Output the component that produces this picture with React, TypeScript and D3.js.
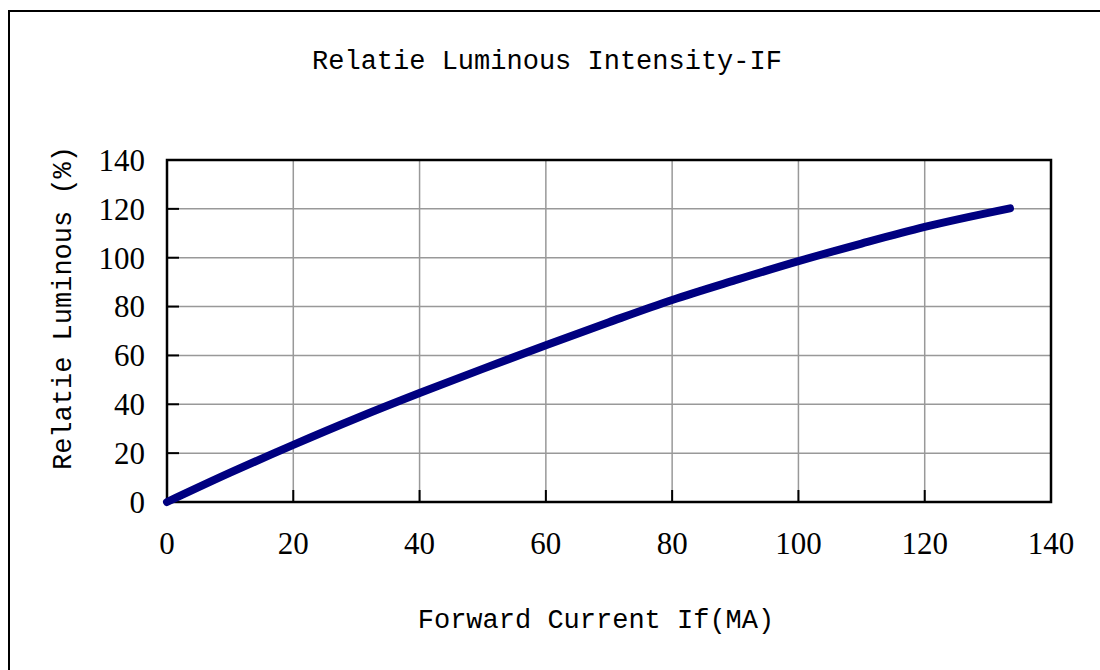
import React, { useEffect, useRef } from 'react';
import * as d3 from 'd3';

// forward current (mA) and relative luminous intensity (%)
const currentMA = [0, 10, 20, 30, 40, 50, 60, 70, 80, 90, 100, 110, 120, 133.5];
const relLuminous = [0, 12, 23.4, 34.3, 44.6, 54.5, 64.2, 73.6, 82.7, 90.8, 98.6, 105.8, 112.6, 120.2];
const xTicks = [0, 20, 40, 60, 80, 100, 120, 140];
const yTicks = [0, 20, 40, 60, 80, 100, 120, 140];

const W = 1100;
const H = 670;
const margin = { top: 160, right: 49, bottom: 168, left: 167 };

function App() {
  const svgRef = useRef<SVGSVGElement>(null);

  useEffect(() => {
    const svg = d3.select(svgRef.current);
    svg.selectAll('*').remove();

    const x = d3.scaleLinear().domain([0, 140]).range([margin.left, W - margin.right]);
    const y = d3.scaleLinear().domain([0, 140]).range([H - margin.bottom, margin.top]);

    const mono = '"Liberation Mono", "DejaVu Sans Mono", monospace';
    const serif = '"Liberation Serif", "DejaVu Serif", serif';

    // outer frame (only top/left edges fall inside the picture)
    svg.append('rect')
      .attr('x', 9).attr('y', 11)
      .attr('width', 1200).attr('height', 800)
      .attr('fill', 'white')
      .attr('stroke', '#000').attr('stroke-width', 2);

    // grid
    const grid = svg.append('g');
    grid.selectAll('line.v')
      .data(xTicks.slice(1, -1))
      .join('line')
      .attr('x1', d => x(d)).attr('x2', d => x(d))
      .attr('y1', y(0)).attr('y2', y(140))
      .attr('stroke', '#999').attr('stroke-width', 1.5);
    grid.selectAll('line.h')
      .data(yTicks.slice(1, -1))
      .join('line')
      .attr('x1', x(0)).attr('x2', x(140))
      .attr('y1', d => y(d)).attr('y2', d => y(d))
      .attr('stroke', '#999').attr('stroke-width', 1.5);

    // inward ticks
    const ticks = svg.append('g').attr('stroke', '#000').attr('stroke-width', 2);
    ticks.selectAll('line.xt')
      .data(xTicks.slice(1, -1))
      .join('line')
      .attr('x1', d => x(d)).attr('x2', d => x(d))
      .attr('y1', y(0)).attr('y2', y(0) - 12);
    ticks.selectAll('line.yt')
      .data(yTicks.slice(1, -1))
      .join('line')
      .attr('x1', x(0)).attr('x2', x(0) + 12)
      .attr('y1', d => y(d)).attr('y2', d => y(d));

    // plot frame
    svg.append('rect')
      .attr('x', x(0)).attr('y', y(140))
      .attr('width', x(140) - x(0)).attr('height', y(0) - y(140))
      .attr('fill', 'none')
      .attr('stroke', '#000').attr('stroke-width', 2.5);

    // curve
    const line = d3.line<number>()
      .x((d, i) => x(currentMA[i]))
      .y(d => y(d))
      .curve(d3.curveMonotoneX);
    svg.append('path')
      .datum(relLuminous)
      .attr('fill', 'none')
      .attr('stroke', '#000080')
      .attr('stroke-width', 8)
      .attr('stroke-linecap', 'round')
      .attr('stroke-linejoin', 'round')
      .attr('d', line);

    // tick labels
    svg.append('g').selectAll('text')
      .data(xTicks)
      .join('text')
      .attr('x', d => x(d))
      .attr('y', 554)
      .attr('text-anchor', 'middle')
      .attr('font-family', serif)
      .attr('font-size', 31)
      .text(d => d);
    svg.append('g').selectAll('text')
      .data(yTicks)
      .join('text')
      .attr('x', 145)
      .attr('y', d => y(d))
      .attr('dy', '0.35em')
      .attr('text-anchor', 'end')
      .attr('font-family', serif)
      .attr('font-size', 31)
      .text(d => d);

    // titles
    svg.append('text')
      .attr('x', 547).attr('y', 69)
      .attr('text-anchor', 'middle')
      .attr('font-family', mono)
      .attr('font-size', 27)
      .text('Relatie Luminous Intensity-IF');
    svg.append('text')
      .attr('x', 596).attr('y', 628)
      .attr('text-anchor', 'middle')
      .attr('font-family', mono)
      .attr('font-size', 27)
      .text('Forward Current If(MA)');
    svg.append('text')
      .attr('transform', 'translate(71,308) rotate(-90)')
      .attr('text-anchor', 'middle')
      .attr('font-family', mono)
      .attr('font-size', 27)
      .text('Relatie Luminous (%)');
  }, []);

  return (
    <svg
      ref={svgRef}
      width={W}
      height={H}
      style={{ position: 'absolute', left: 0, top: 0, background: 'white' }}
    />
  );
}

export default App;
